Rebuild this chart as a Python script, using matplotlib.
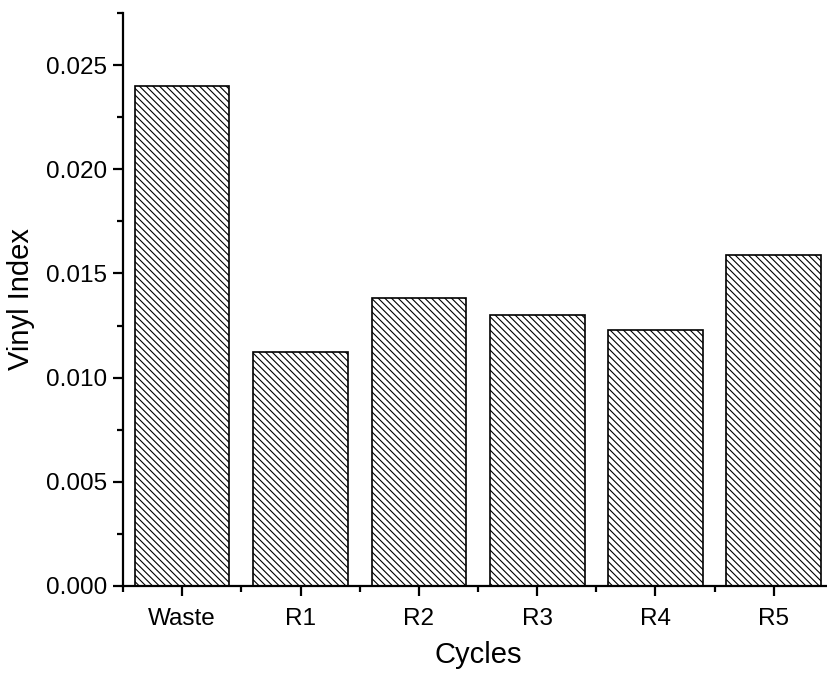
import numpy as np
import matplotlib.pyplot as plt
from matplotlib.ticker import MultipleLocator, FormatStrFormatter

plt.rcParams['font.family'] = ['Liberation Sans', 'DejaVu Sans']
plt.rcParams['hatch.linewidth'] = 0.8

# data
cycles = ['Waste', 'R1', 'R2', 'R3', 'R4', 'R5']
vinyl_index = [0.0240, 0.01121, 0.01384, 0.01302, 0.01229, 0.01590]

fig = plt.figure(figsize=(8.27, 6.74), dpi=100)
ax = fig.add_axes([123 / 827, 88 / 674, 710 / 827, 573 / 674])

x = np.arange(len(cycles))
ax.bar(x, vinyl_index, width=0.8, color='white', edgecolor='black',
       linewidth=1.2, hatch='\\' * 5)

ax.set_xlim(-0.5, 5.5)
ax.set_ylim(0, 0.0275)
ax.set_xticks(x)
ax.set_xticklabels(cycles)
ax.set_xticks(np.arange(-0.5, 6.0, 1.0), minor=True)
ax.yaxis.set_major_locator(MultipleLocator(0.005))
ax.yaxis.set_minor_locator(MultipleLocator(0.0025))
ax.yaxis.set_major_formatter(FormatStrFormatter('%.3f'))

for s in ['top', 'right']:
    ax.spines[s].set_visible(False)
for s in ['left', 'bottom']:
    ax.spines[s].set_linewidth(1.6)

ax.tick_params(which='major', direction='out', length=7.5, width=1.6,
               labelsize=17.5, pad=4)
ax.tick_params(axis='x', which='major', pad=8)
ax.tick_params(which='minor', direction='out', length=4, width=1.6)

ax.set_xlabel('Cycles', fontsize=21, labelpad=8)
ax.set_ylabel('Vinyl Index', fontsize=21, labelpad=8)

fig.savefig('out.png', dpi=100)
